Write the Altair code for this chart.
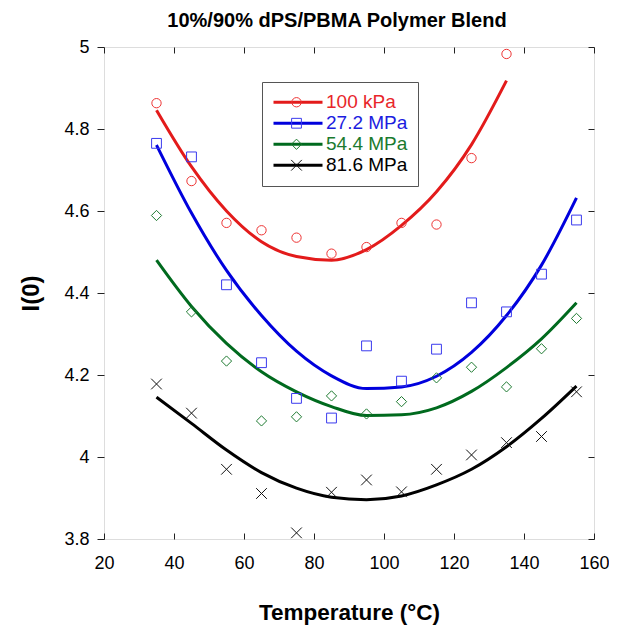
import altair as alt
import pandas as pd

# ---------------- data ----------------
series_names = ["100 kPa", "27.2 MPa", "54.4 MPa", "81.6 MPa"]
line_colors = ["#e31b1b", "#0000dd", "#006a1e", "#000000"]
label_colors = ["#e8262a", "#1c1ce0", "#1a7a2e", "#000000"]
marker_colors = ["#ee3333", "#3a3aee", "#1d7a30", "#111111"]
marker_shapes = ["circle", "square", "diamond", "M-1,-1L1,1M-1,1L1,-1"]
marker_sizes = [87, 114, 72, 144]

temps = [35, 45, 55, 65, 75, 85, 95, 105, 115, 125, 135, 145, 155]

# measured points
red_pts = [4.863, 4.673, 4.571, 4.553, 4.535, 4.496, 4.512, 4.571, 4.567, 4.729, 4.983]
blue_pts = [4.765, 4.732, 4.420, 4.230, 4.143, 4.095, 4.271, 4.185, 4.263, 4.376, 4.354, 4.446, 4.578]
green_pts = [4.589, 4.354, 4.234, 4.088, 4.098, 4.149, 4.105, 4.135, 4.193, 4.219, 4.171, 4.264, 4.338]
black_pts = [4.178, 4.107, 3.970, 3.911, 3.815, 3.914, 3.944, 3.915, 3.970, 4.005, 4.035, 4.050, 4.159]

# fitted curves
red_fit = [4.846, 4.708, 4.600, 4.525, 4.489, 4.480, 4.506, 4.565, 4.647, 4.762, 4.918]
blue_fit = [4.761, 4.595, 4.455, 4.345, 4.258, 4.198, 4.167, 4.171, 4.197, 4.255, 4.345, 4.468, 4.632]
green_fit = [4.480, 4.367, 4.277, 4.208, 4.159, 4.123, 4.101, 4.103, 4.120, 4.160, 4.218, 4.288, 4.376]
black_fit = [4.146, 4.082, 4.017, 3.962, 3.924, 3.902, 3.896, 3.905, 3.932, 3.970, 4.025, 4.094, 4.173]

x_ticks = [20, 40, 60, 80, 100, 120, 140, 160]
y_ticks = [3.8, 4.0, 4.2, 4.4, 4.6, 4.8, 5.0]

# ---------------- tables ----------------
pt_rows, fit_rows = [], []
for name, pts, fit in zip(series_names,
                          [red_pts, blue_pts, green_pts, black_pts],
                          [red_fit, blue_fit, green_fit, black_fit]):
    for t, v in zip(temps, pts):
        pt_rows.append({"T": t, "I": v, "series": name})
    for t, v in zip(temps, fit):
        fit_rows.append({"T": t, "I": v, "series": name})
pt_df = pd.DataFrame(pt_rows)
fit_df = pd.DataFrame(fit_rows)

FONT = "Arial"
W, H = 490, 492
ROW_H = 20.5

xscale = alt.Scale(domain=[20, 160], nice=False, zero=False)
yscale = alt.Scale(domain=[3.8, 5.0], nice=False, zero=False)

label_expr = " : ".join(
    [f"datum.value === '{n}' ? '{c}'" for n, c in zip(series_names[:-1], label_colors[:-1])]
) + f" : '{label_colors[-1]}'"

# ---------------- fitted lines (main axes + line legend) ----------------
lines = alt.Chart(fit_df).mark_line(interpolate="monotone", strokeWidth=3).encode(
    x=alt.X("T:Q", scale=xscale,
            axis=alt.Axis(orient="bottom", values=x_ticks, ticks=False, tickSize=0,
                          domain=False, grid=False, labelFontSize=18, labelPadding=15,
                          labelFlush=False, labelColor="black", labelFont=FONT,
                          title="Temperature (°C)", titleFontSize=22.5, titleFontWeight="bold",
                          titleFont=FONT, titleColor="black", titlePadding=29)),
    y=alt.Y("I:Q", scale=yscale,
            axis=alt.Axis(orient="left", values=y_ticks, format="~g", ticks=True, tickSize=7,
                          tickColor="#222", domain=False, grid=False, labelFontSize=18,
                          labelPadding=8, labelFlush=False, labelColor="black", labelFont=FONT,
                          title="I(0)", titleFontSize=24, titleFontWeight="bold",
                          titleFont=FONT, titleColor="black", titlePadding=20)),
    color=alt.Color("series:N",
                    scale=alt.Scale(domain=series_names, range=line_colors),
                    legend=alt.Legend(title=None, orient="none", legendX=158, legendY=35,
                                      padding=10, fillColor="white", strokeColor="#555555",
                                      symbolType="stroke", symbolSize=2401,
                                      symbolStrokeWidth=3, labelFontSize=19, labelFont=FONT,
                                      labelOffset=2, rowPadding=0, clipHeight=ROW_H,
                                      labelColor=alt.ExprRef(label_expr))),
)

# ---------------- measured points (inner ticks + marker legend) ----------------
marker_legend = alt.Legend(title=None, orient="none", legendX=173, legendY=35, padding=10,
                           symbolSize=90, symbolStrokeWidth=1, labelFontSize=19,
                           labelFont=FONT, labelOffset=2, rowPadding=0, clipHeight=ROW_H,
                           labelExpr="''", symbolFillColor="white")

points = alt.Chart(pt_df).mark_point(filled=False, strokeWidth=1, opacity=1).encode(
    x=alt.X("T:Q", scale=xscale,
            axis=alt.Axis(orient="top", offset=-H, values=x_ticks, labels=False, domain=False,
                          ticks=True, tickSize=6, tickColor="#222", grid=False, title=None)),
    y=alt.Y("I:Q", scale=yscale,
            axis=alt.Axis(orient="left", offset=-W, values=y_ticks, labels=False, domain=False,
                          ticks=True, tickSize=6, tickColor="#222", grid=False, title=None)),
    color=alt.Color("series:N", scale=alt.Scale(domain=series_names, range=marker_colors),
                    legend=marker_legend),
    shape=alt.Shape("series:N", scale=alt.Scale(domain=series_names, range=marker_shapes),
                    legend=marker_legend),
    size=alt.Size("series:N", scale=alt.Scale(domain=series_names, range=marker_sizes),
                  legend=None),
)

# ---------------- carrier of top-edge inner ticks ----------------
top_ticks = alt.Chart(pt_df).mark_point(opacity=0).encode(
    x=alt.X("T:Q", scale=xscale,
            axis=alt.Axis(orient="bottom", offset=-H, values=x_ticks, labels=False, domain=False,
                          ticks=True, tickSize=6, tickColor="#222", grid=False, title=None)),
    y=alt.Y("I:Q", scale=yscale, axis=None),
)

chart = alt.layer(lines, points, top_ticks).resolve_scale(
    color="independent", shape="independent", size="independent"
).resolve_axis(x="independent", y="independent").properties(
    width=W, height=H,
    autosize=alt.AutoSizeParams(type="none"),
    padding={"left": 96, "top": 39, "right": 15, "bottom": 88},
    title=alt.TitleParams("10%/90% dPS/PBMA Polymer Blend", fontSize=20, fontWeight="bold",
                          font=FONT, color="black", offset=7, dx=-12, anchor="middle"),
).configure_view(stroke="#222222", strokeWidth=1.3).configure(background="white")

chart.save("out.html", embed_options={"renderer": "svg", "actions": False})
